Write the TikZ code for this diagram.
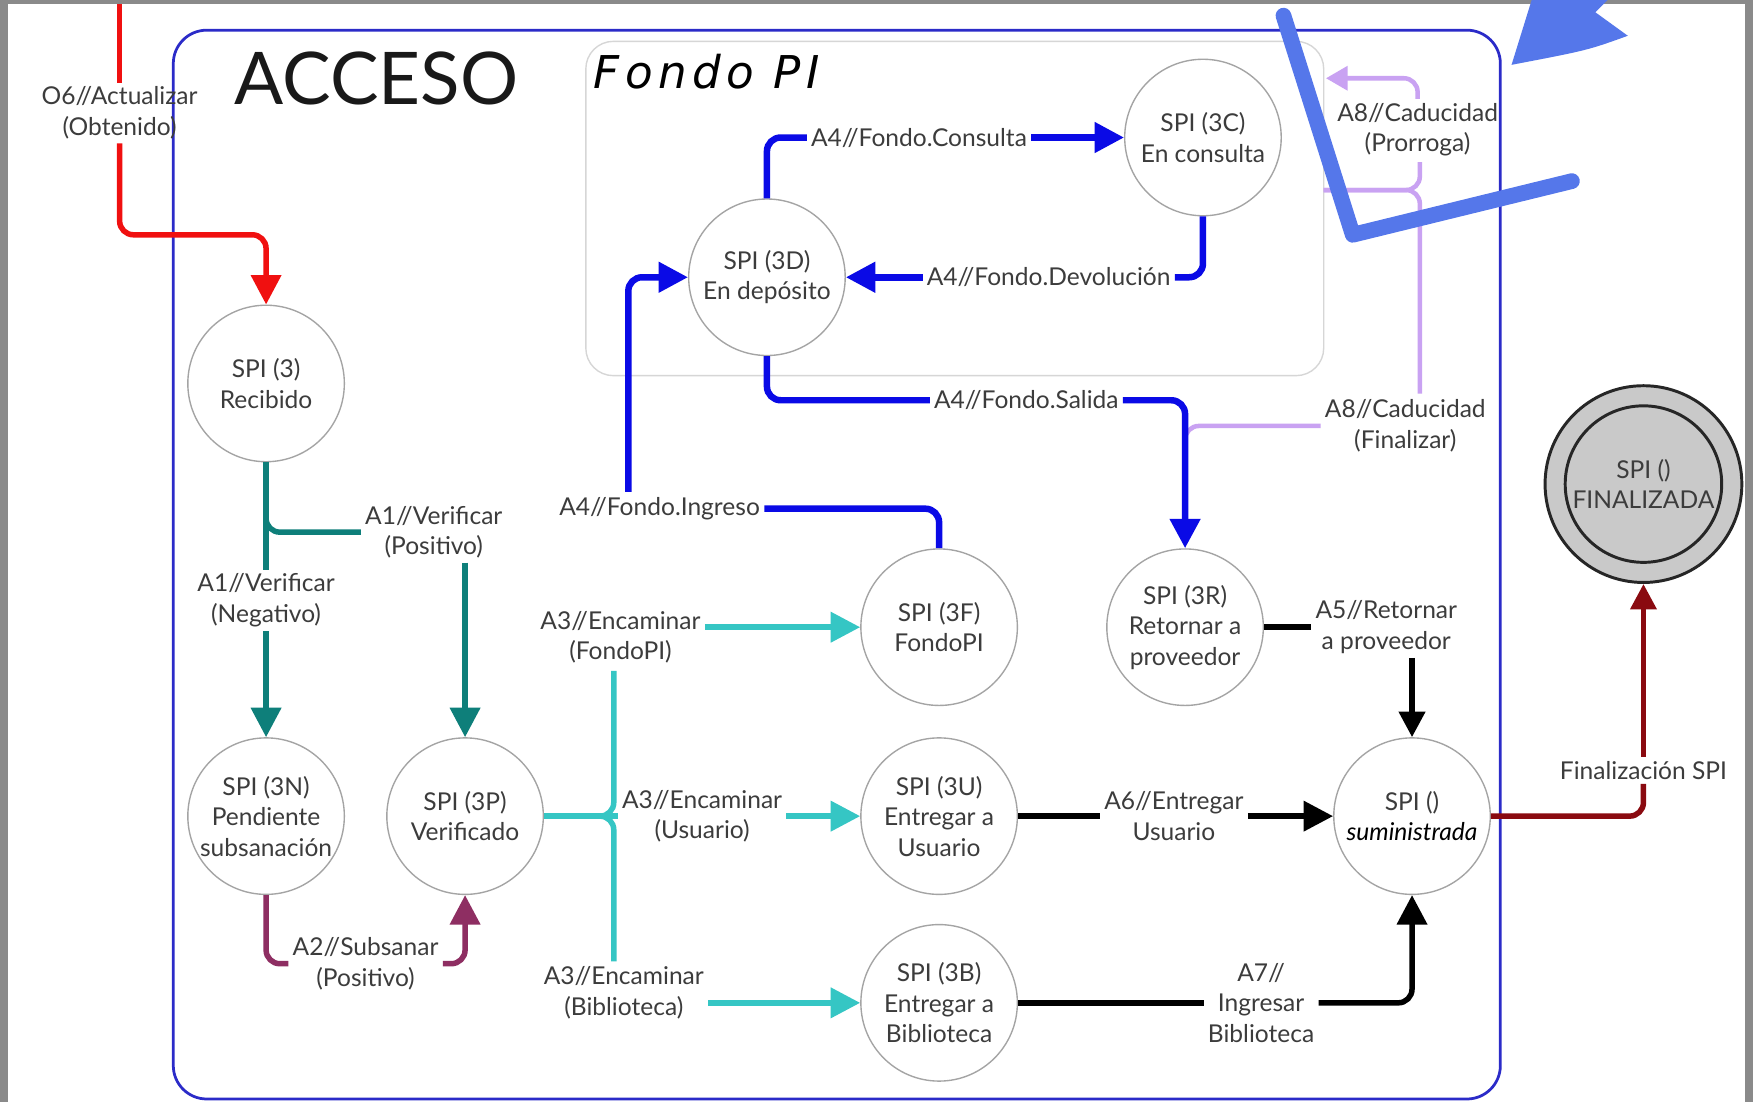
\documentclass[tikz,border=0pt]{standalone}
\usepackage{fontspec}
\setmainfont{Lato}
\newfontfamily\fondofont[LetterSpace=12]{DejaVu Sans}
\usetikzlibrary{arrows.meta}
\definecolor{framegray}{HTML}{8A8A8A}
\definecolor{accblue}{HTML}{2B2BC8}
\definecolor{boxgray}{HTML}{D6D6D6}
\definecolor{nodegray}{HTML}{A4A4A4}
\definecolor{txtgray}{HTML}{3C3C3C}
\definecolor{fingray}{HTML}{C9C9C9}
\definecolor{tealc}{HTML}{0E7F7A}
\definecolor{maroonc}{HTML}{8E2E62}
\definecolor{cyanc}{HTML}{35C6C4}
\definecolor{bluec}{HTML}{0A0AE6}
\definecolor{lavc}{HTML}{C9A2F2}
\definecolor{dredc}{HTML}{8A0A10}
\definecolor{redc}{HTML}{F01010}
\definecolor{markblue}{HTML}{5577EA}
\newcommand{\labfont}{\fontsize{12.5}{15.5}\selectfont}
\tikzset{>={Triangle[length=15pt,width=15pt]}}
\tikzset{
  state/.style={circle, draw=nodegray, line width=0.7pt, minimum size=2.8cm, inner sep=0pt, align=center, text=txtgray, font=\labfont},
  lab/.style={align=center, text=txtgray, inner sep=2pt, font=\labfont},
  flow/.style={line width=2.8pt, rounded corners=7pt},
  lavline/.style={flow, line width=2.3pt, color=lavc, >={Triangle[length=11pt,width=12pt]}},
}
\begin{document}
\begin{tikzpicture}[x=2cm,y=-2cm]
\useasboundingbox (0,0) rectangle (15.68,9.86);
\fill[framegray] (0,0) rectangle (15.68,9.86);
\fill[white] (0.07,0.04) rectangle (15.61,9.86);
\draw[accblue, line width=1.4pt, rounded corners=17pt] (1.55,0.27) rectangle (13.42,9.83);
\draw[boxgray, line width=0.7pt, rounded corners=14pt] (5.24,0.37) rectangle (11.84,3.36);
\node[anchor=west, font=\fondofont\fontsize{23}{26}\selectfont\itshape] (tFondo) at (5.25,0.64) {Fondo PI};
\node[text=black!90, font=\fontsize{37}{40}\selectfont] (tAcceso) at (3.37,0.70) {ACCESO};

\node[state] (R3) at (2.38,3.43) {SPI (3)\\Recibido};
\node[state] (N3) at (2.38,7.30) {SPI (3N)\\Pendiente\\subsanación};
\node[state] (P3) at (4.16,7.30) {SPI (3P)\\Verificado};
\node[state] (D3) at (6.86,2.48) {SPI (3D)\\En depósito};
\node[state] (C3) at (10.76,1.23) {SPI (3C)\\En consulta};
\node[state] (F3) at (8.40,5.61) {SPI (3F)\\FondoPI};
\node[state] (U3) at (8.40,7.30) {SPI (3U)\\Entregar a\\Usuario};
\node[state] (B3) at (8.40,8.97) {SPI (3B)\\Entregar a\\Biblioteca};
\node[state] (RP) at (10.60,5.61) {SPI (3R)\\Retornar a\\proveedor};
\node[state] (SU) at (12.63,7.30) {SPI ()\\\textcolor{black}{\textit{suministrada}}};
\node[circle, draw=black!85, line width=1.5pt, fill=fingray, minimum size=3.52cm] (FIN) at (14.70,4.33) {};
\node[state, draw=black!85, line width=1.5pt] (FINi) at (FIN) {SPI ()\\FINALIZADA};

\node[lab] (lO6) at (1.07,1.01) {O6//Actualizar\\(Obtenido)};
\node[lab] (lA1p) at (3.88,4.76) {A1//Verificar\\(Positivo)};
\node[lab] (lA1n) at (2.38,5.37) {A1//Verificar\\(Negativo)};
\node[lab] (lA2) at (3.27,8.62) {A2//Subsanar\\(Positivo)};
\node[lab] (lA3f) at (5.55,5.70) {A3//Encaminar\\(FondoPI)};
\node[lab] (lA3u) at (6.28,7.30) {A3//Encaminar\\(Usuario)};
\node[lab] (lA3b) at (5.58,8.88) {A3//Encaminar\\(Biblioteca)};
\node[lab] (lIng) at (5.90,4.55) {A4//Fondo.Ingreso};
\node[lab] (lCons) at (8.22,1.23) {A4//Fondo.Consulta};
\node[lab] (lDev) at (9.38,2.48) {A4//Fondo.Devolución};
\node[lab] (lSal) at (9.18,3.58) {A4//Fondo.Salida};
\node[lab] (lA8p) at (12.68,1.16) {A8//Caducidad\\(Prorroga)};
\node[lab] (lA8f) at (12.57,3.81) {A8//Caducidad\\(Finalizar)};
\node[lab] (lA5) at (12.40,5.61) {A5//Retornar\\a proveedor};
\node[lab] (lA6) at (10.50,7.30) {A6//Entregar\\Usuario};
\node[lab] (lA7) at (11.28,8.97) {A7//\\Ingresar\\Biblioteca};
\node[lab] (lFin) at (14.70,6.89) {Finalización SPI};

\coordinate (redTop) at (1.07,0.04);
\coordinate (redK) at (2.38,2.10);
\coordinate (brA1) at (2.38,4.60);
\coordinate (cyT) at (5.49,6.00);
\coordinate (cyB) at (5.49,8.60);
\coordinate (ingT) at (5.62,4.40);
\coordinate (salJ) at (10.60,4.15);
\coordinate (cadJ) at (11.84,1.70);
\coordinate (cadT) at (12.70,1.45);
\coordinate (cadB) at (12.70,3.52);
\coordinate (fpIn) at (11.86,0.70);

\draw[flow, redc] (redTop) -- (lO6.north);
\draw[flow, redc, ->] (lO6.south) |- (redK) -- (R3.north);

\draw[flow, tealc] (R3.south) -- (lA1n.north);
\draw[flow, tealc, ->] (lA1n.south) -- (N3.north);
\draw[flow, tealc] (brA1) |- (lA1p.west);
\draw[flow, tealc, ->] (lA1p.south -| P3.north) -- (P3.north);

\draw[flow, maroonc] (N3.south) |- (lA2.west);
\draw[flow, maroonc, ->] (lA2.east) -| (P3.south);

\draw[flow, cyanc] (P3.east) -| (cyT);
\draw[flow, cyanc] (P3.east) -| (cyB);
\draw[flow, cyanc] (P3.east) -- (lA3u.west);
\draw[flow, cyanc, ->] (lA3f.east |- F3) -- (F3);
\draw[flow, cyanc, ->] (lA3u.east) -- (U3);
\draw[flow, cyanc, ->] (lA3b.east |- B3) -- (B3);

\draw[lavline] (lA8f.west) -| (salJ);
\draw[lavline] (cadJ) -| (cadT);
\draw[lavline] (cadJ) -| (cadB);
\draw[lavline, ->] (lA8p.north) |- (fpIn);

\draw[flow, bluec, line width=3.3pt] (F3.north) |- (lIng.east);
\draw[flow, bluec, line width=3.3pt, ->] (ingT) |- (D3.west);
\draw[flow, bluec, line width=3.3pt] (D3.north) |- (lCons.west);
\draw[flow, bluec, line width=3.3pt, ->] (lCons.east) -- (C3);
\draw[flow, bluec, line width=3.3pt] (C3.south) |- (lDev.east);
\draw[flow, bluec, line width=3.3pt, ->] (lDev.west) -- (D3);
\draw[flow, bluec, line width=3.3pt] (D3.south) |- (lSal.west);
\draw[flow, bluec, line width=3.3pt, ->] (lSal.east) -| (RP.north);

\draw[flow, black] (RP.east) -- (lA5.west);
\draw[flow, black, ->, >={Triangle[length=13pt,width=13pt]}] (lA5.south -| SU.north) -- (SU.north);
\draw[flow, black] (U3.east) -- (lA6.west);
\draw[flow, black, ->] (lA6.east) -- (SU);
\draw[flow, black] (B3.east) -- (lA7.west);
\draw[flow, black, ->] (lA7.east) -| (SU.south);

\draw[flow, dredc] (SU.east) -| (lFin.south);
\draw[flow, dredc, ->, >={Triangle[length=13pt,width=13pt]}] (lFin.north) -- (FIN.south);

\draw[markblue, line width=8pt, line cap=round, line join=round] (11.48,0.14) -- (12.10,2.10) -- (14.06,1.62);
\fill[markblue] (13.52,0.58) -- (13.70,0.00) -- (14.38,0.00) -- (14.27,0.11) -- (14.56,0.32) .. controls (14.20,0.45) .. (13.52,0.58) -- cycle;
\end{tikzpicture}
\end{document}
